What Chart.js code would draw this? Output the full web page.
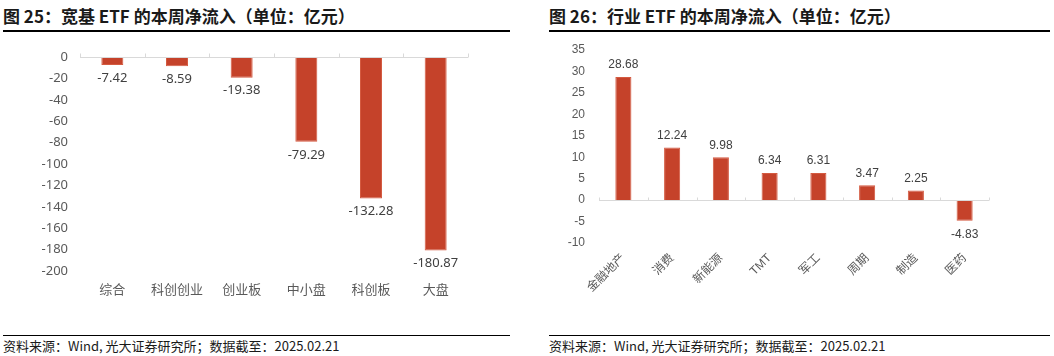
<!DOCTYPE html>
<html>
<head>
<meta charset="utf-8">
<script src="https://cdn.jsdelivr.net/npm/chart.js@4.4.1/dist/chart.umd.min.js"></script>
<style>
  html, body { margin:0; padding:0; background:#fff; }
  #page { position:relative; width:1054px; height:356px; overflow:hidden; background:#fff; }
  .title { position:absolute; top:5px; font-family:"Noto Sans CJK SC","Noto Sans",sans-serif; font-weight:bold; font-size:17px; color:#1a1a1a; white-space:nowrap; line-height:22px; }
  .rule { position:absolute; height:2px; background:#000; }
  .foot { position:absolute; top:337px; font-family:"Noto Sans CJK SC","Noto Sans",sans-serif; font-size:13px; color:#1a1a1a; white-space:nowrap; line-height:17px; }
  .rule2 { position:absolute; height:1px; background:#000; }
  canvas { position:absolute; }
</style>
</head>
<body>
<div id="page">
  <div class="title" style="left:3px;">图 25：宽基 ETF 的本周净流入（单位：亿元）</div>
  <div class="rule" style="left:3px; width:507px; top:30px;"></div>
  <div class="title" style="left:549px;">图 26：行业 ETF 的本周净流入（单位：亿元）</div>
  <div class="rule" style="left:549px; width:501px; top:30px;"></div>
  <div style="position:absolute; left:0; top:40px; width:527px; height:265px;"><canvas id="c1" width="527" height="265"></canvas></div>
  <div style="position:absolute; left:527px; top:40px; width:527px; height:270px;"><canvas id="c2" width="527" height="270"></canvas></div>
  <div class="rule2" style="left:3px; width:507px; top:335px;"></div>
  <div class="rule2" style="left:549px; width:501px; top:335px;"></div>
  <div class="foot" style="left:3px;">资料来源：Wind, 光大证券研究所；数据截至：2025.02.21</div>
  <div class="foot" style="left:549px;">资料来源：Wind, 光大证券研究所；数据截至：2025.02.21</div>
</div>
<script>
// ---- data ----
const broadCategories = ['综合', '科创创业', '创业板', '中小盘', '科创板', '大盘'];
const broadValues = [-7.42, -8.59, -19.38, -79.29, -132.28, -180.87];
const broadTicks = { min: -200, max: 0, step: 20 };

const sectorCategories = ['金融地产', '消费', '新能源', 'TMT', '军工', '周期', '制造', '医药'];
const sectorValues = [28.68, 12.24, 9.98, 6.34, 6.31, 3.47, 2.25, -4.83];
const sectorTicks = { min: -10, max: 35, step: 5 };

const BAR = '#C5422A';
const BAR_EDGE = '#D45A40';
const AXIS = '#D9D9D9';
const TXT = '#595959';

function zeroPad(s) { s.paddingTop = 0; s.paddingBottom = 0; s.paddingLeft = 0; s.paddingRight = 0; }

function axisPlugin(tickUp) {
  return {
    id: 'zeroAxis',
    afterDatasetsDraw(chart) {
      const { ctx, chartArea, scales } = chart;
      const x = scales.x, y = scales.y;
      const y0 = Math.round(y.getPixelForValue(0)) + 0.5;
      ctx.save();
      ctx.strokeStyle = AXIS;
      ctx.lineWidth = 1;
      ctx.beginPath();
      ctx.moveTo(chartArea.left, y0);
      ctx.lineTo(chartArea.right, y0);
      const n = chart.data.labels.length;
      for (let i = 0; i <= n; i++) {
        const px = Math.round(x.getPixelForValue(i - 0.5)) + 0.5;
        ctx.moveTo(px, y0);
        ctx.lineTo(px, y0 - tickUp);
      }
      ctx.stroke();
      ctx.restore();
    }
  };
}

function labelPlugin(font, color, above, below, digits) {
  return {
    id: 'barLabels',
    afterDatasetsDraw(chart) {
      const { ctx } = chart;
      const meta = chart.getDatasetMeta(0);
      const vals = chart.data.datasets[0].data;
      ctx.save();
      ctx.font = font;
      ctx.fillStyle = color;
      ctx.textAlign = 'center';
      ctx.textBaseline = 'middle';
      meta.data.forEach((bar, i) => {
        const v = vals[i];
        const yy = v >= 0 ? bar.y - above : bar.y + below;
        ctx.fillText(v.toFixed(digits), bar.x, yy);
      });
      ctx.restore();
    }
  };
}

// ---- chart 1 ----
new Chart(document.getElementById('c1'), {
  type: 'bar',
  data: {
    labels: broadCategories,
    datasets: [{ data: broadValues, backgroundColor: BAR, borderColor: BAR_EDGE, borderWidth: 1,
      categoryPercentage: 1, barPercentage: 0.34 }]
  },
  options: {
    responsive: false, animation: false,
    layout: { padding: { left: 0, right: 59, top: 17, bottom: 0 } },
    plugins: { legend: { display: false }, tooltip: { enabled: false } },
    scales: {
      x: {
        grid: { display: false, drawTicks: false }, border: { display: false },
        ticks: { color: TXT, padding: 10, font: { family: '"Noto Sans CJK SC", "Noto Sans", sans-serif', size: 13 }, maxRotation: 0 },
        afterFit(s) { s.height = 34; zeroPad(s); }
      },
      y: {
        min: broadTicks.min, max: broadTicks.max,
        grid: { display: false, drawTicks: false }, border: { display: false },
        ticks: { stepSize: broadTicks.step, color: TXT, padding: 12, font: { family: '"Noto Sans", "Noto Sans CJK SC", sans-serif', size: 13 } },
        afterFit(s) { s.width = 80; zeroPad(s); }
      }
    }
  },
  plugins: [axisPlugin(4), labelPlugin('13px "Noto Sans", "Noto Sans CJK SC", sans-serif', '#404040', 12, 13, 2)]
});

// ---- chart 2 ----
new Chart(document.getElementById('c2'), {
  type: 'bar',
  data: {
    labels: sectorCategories,
    datasets: [{ data: sectorValues, backgroundColor: BAR, borderColor: BAR_EDGE, borderWidth: 1,
      categoryPercentage: 1, barPercentage: 0.33 }]
  },
  options: {
    responsive: false, animation: false,
    layout: { padding: { left: 0, right: 65, top: 10, bottom: 0 } },
    plugins: { legend: { display: false }, tooltip: { enabled: false } },
    scales: {
      x: {
        grid: { display: false, drawTicks: false }, border: { display: false },
        ticks: { color: TXT, padding: 8, font: { family: '"Liberation Sans", "Noto Sans CJK SC", sans-serif', size: 12 }, maxRotation: 45, minRotation: 45, autoSkip: false },
        afterFit(s) { s.height = 67; zeroPad(s); }
      },
      y: {
        min: sectorTicks.min, max: sectorTicks.max,
        grid: { display: false, drawTicks: false }, border: { display: false },
        ticks: { stepSize: sectorTicks.step, color: TXT, padding: 14, font: { family: '"Liberation Sans", Arial, sans-serif', size: 12 } },
        afterFit(s) { s.width = 72; zeroPad(s); }
      }
    }
  },
  plugins: [axisPlugin(3), labelPlugin('12px "Liberation Sans", Arial, sans-serif', '#404040', 12, 14, 2)]
});
</script>
</body>
</html>
